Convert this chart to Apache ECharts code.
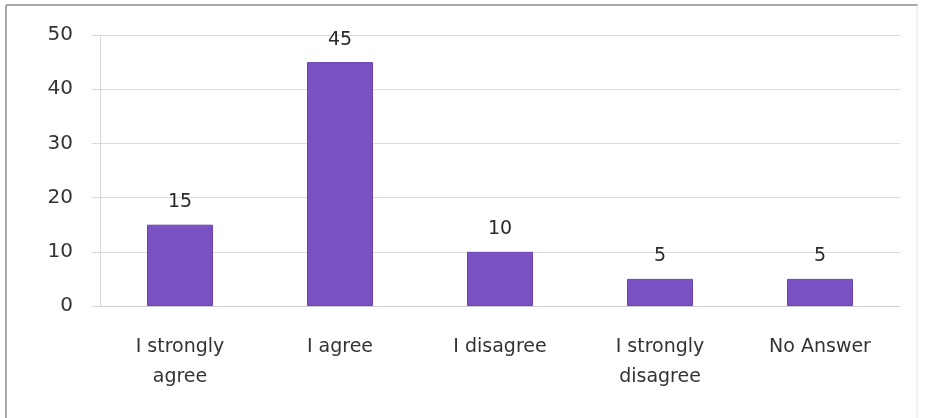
<!DOCTYPE html>
<html>
<head>
<meta charset="utf-8">
<script src="https://cdn.jsdelivr.net/npm/echarts@6/dist/echarts.min.js"></script>
<style>
  html, body { margin: 0; padding: 0; background: #ffffff; }
  #chart { width: 925px; height: 418px; }
</style>
</head>
<body>
<div id="chart"></div>
<script>
// Survey responses
const categories = ['I strongly\nagree', 'I agree', 'I disagree', 'I strongly\ndisagree', 'No Answer'];
const counts = [15, 45, 10, 5, 5];
const yTicks = [0, 10, 20, 30, 40, 50];

const chart = echarts.init(document.getElementById('chart'));
const font = '"DejaVu Sans", "Open Sans", sans-serif';

chart.setOption({
  animation: false,
  backgroundColor: '#ffffff',
  graphic: [
    // frame around the chart area
    { type: 'line', shape: { x1: 6, y1: 5, x2: 918, y2: 5 }, style: { stroke: '#a8a8a8', lineWidth: 2 } },
    { type: 'line', shape: { x1: 6, y1: 5, x2: 6, y2: 418 }, style: { stroke: '#a8a8a8', lineWidth: 2 } },
    { type: 'line', shape: { x1: 917, y1: 5, x2: 917, y2: 418 }, style: { stroke: '#e4e4e4', lineWidth: 1 } }
  ],
  grid: { left: 100, right: 25, top: 35, bottom: 112, containLabel: false },
  xAxis: {
    type: 'category',
    data: categories,
    axisLine: { show: true, lineStyle: { color: '#d0d0d0', width: 1 } },
    axisTick: { show: false },
    axisLabel: {
      color: '#333333',
      fontFamily: font,
      fontSize: 19,
      lineHeight: 30,
      margin: 26,
      interval: 0
    }
  },
  yAxis: {
    type: 'value',
    min: yTicks[0],
    max: yTicks[yTicks.length - 1],
    interval: 10,
    axisLine: { show: true, lineStyle: { color: '#d8d8d8', width: 1 } },
    axisTick: { show: true, length: 8, lineStyle: { color: '#d8d8d8' } },
    axisLabel: { color: '#333333', fontFamily: font, fontSize: 20, margin: 27 },
    splitLine: { show: true, lineStyle: { color: '#dcdcdc', width: 1 } }
  },
  series: [{
    type: 'bar',
    data: counts,
    barWidth: 66,
    itemStyle: { color: '#7b52c4', borderColor: '#6a44b0', borderWidth: 1 },
    label: {
      show: true,
      position: 'top',
      distance: 13,
      color: '#2a2a2a',
      fontFamily: font,
      fontSize: 19
    }
  }]
});
</script>
</body>
</html>
